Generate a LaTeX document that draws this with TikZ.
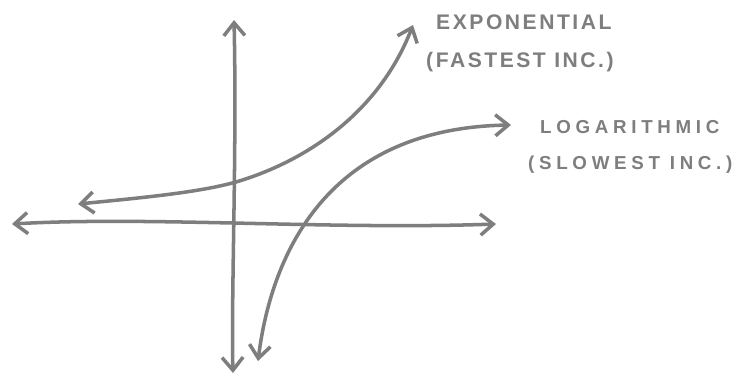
\documentclass[tikz,border=0pt]{standalone}
\usepackage{fontspec}
\newfontfamily\expfont[LetterSpace=12]{Liberation Sans}
\newfontfamily\logfont[LetterSpace=25]{Liberation Sans}
\usetikzlibrary{arrows.meta}
\definecolor{pencil}{HTML}{7E7E7E}
\definecolor{paper}{HTML}{FFFFFF}

\begin{document}
\begin{tikzpicture}[x=0.03cm, y=-0.03cm,
  >={Straight Barb[length=11pt, width=18pt]},
  sketch/.style={pencil, line width=3pt, line cap=round, line join=round},
  hand/.style={text=pencil, anchor=west, inner sep=0pt}]

% Background
\fill[paper] (0,0) rectangle (754,379);
\useasboundingbox (0,0) rectangle (754,379);

% Axes
\coordinate (xL) at (12,224);
\coordinate (xR) at (496,224);
\coordinate (yT) at (234,20);
\coordinate (yB) at (233,373);
\draw[sketch, <->] (xL) .. controls (150,216) and (330,230) .. (xR);
\draw[sketch, <->] (yT) .. controls (237,150) and (231,300) .. (yB);

% Exponential curve
\coordinate (expL) at (78,204);
\coordinate (expY) at (236,182);
\coordinate (expT) at (413,25);
\draw[sketch, <->] (expL) .. controls (150,197) and (200,192) .. (expY)
  .. controls (310,160) and (380,110) .. (expT);

% Logarithmic curve
\coordinate (logB) at (258,361);
\coordinate (logR) at (511,125);
\draw[sketch, <->] (logB) .. controls (272,250) and (330,128) .. (logR);

% Labels
\node[hand, font=\expfont\bfseries\fontsize{18}{20}\selectfont] (expName) at (436,22) {EXPONENTIAL};
\node[hand, font=\expfont\bfseries\fontsize{18}{20}\selectfont] (expNote) at (426,62) {(FASTEST INC.)};
\node[hand, font=\logfont\bfseries\fontsize{16}{18}\selectfont] (logName) at (540,127) {LOGARITHMIC};
\node[hand, font=\logfont\bfseries\fontsize{16}{18}\selectfont] (logNote) at (528,165) {(SLOWEST INC.)};

\end{tikzpicture}
\end{document}
